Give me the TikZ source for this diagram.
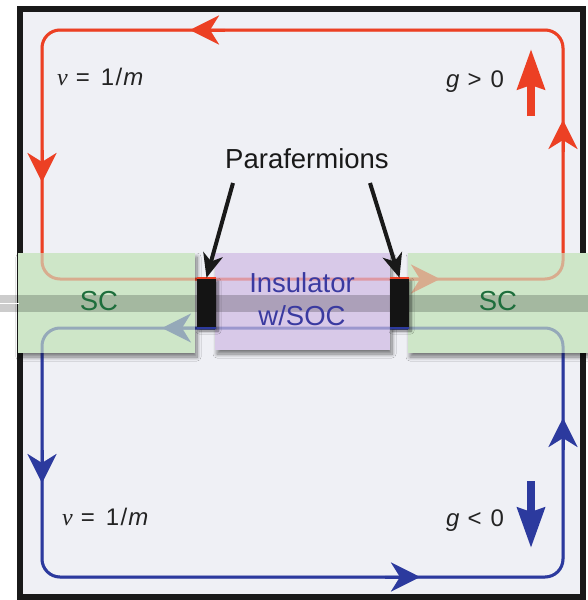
\documentclass[tikz,border=0pt]{standalone}
\usepackage{fontspec}
\setmainfont{Liberation Sans}
\newfontfamily\nufont{Liberation Serif}
\usetikzlibrary{arrows.meta,shadows.blur}
\definecolor{redc}{RGB}{236,64,36}
\definecolor{bluec}{RGB}{44,58,158}
\definecolor{bgc}{RGB}{239,240,245}
\definecolor{scfill}{RGB}{206,230,200}
\definecolor{insfill}{RGB}{216,201,232}
\definecolor{sctext}{RGB}{30,110,60}
\definecolor{instext}{RGB}{58,58,160}
\definecolor{txt}{RGB}{35,35,35}
\tikzset{
  loopline/.style={line width=3pt, rounded corners=18pt},
  looptip/.style={line width=3pt, -{Stealth[length=29pt,width=29pt,inset=9pt]}},
  boxshadow/.style={blur shadow={shadow xshift=2pt,shadow yshift=-4pt,shadow blur radius=4pt,shadow blur steps=8,shadow opacity=50}},
  scbox/.style={boxshadow, fill=scfill, draw=none, minimum height=100pt, inner sep=0pt},
  insbox/.style={boxshadow, fill=insfill, draw=none, minimum width=175pt, minimum height=97pt, inner sep=0pt},
  pfblock/.style={blur shadow={shadow xshift=2pt,shadow yshift=-3pt,shadow blur radius=3pt,shadow blur steps=6,shadow opacity=55}, fill=black!92, minimum width=19pt, minimum height=50pt, inner sep=0pt},
  bigtext/.style={font=\fontsize{27.5}{30}\selectfont, inner sep=0pt, anchor=base},
  eqtext/.style={font=\fontsize{24}{28}\selectfont, text=txt, inner sep=0pt, anchor=base west},
  pfarrow/.style={line width=4pt, black!90, -{Stealth[length=24pt,width=20pt,inset=7pt]}},
  spinarrow/.style={line width=8pt, -{Stealth[length=40pt,width=27pt,inset=4pt]}}
}
\newcommand\edgeloops{%
  \draw[redc, loopline] (42,30) rectangle (563,279);
  \draw[redc, looptip] (225,30) -- (190,30);
  \draw[redc, looptip] (42,150) -- (42,182);
  \draw[redc, looptip] (563,152) -- (563,120);
  \draw[redc, looptip] (405,279) -- (440,279);
  \draw[bluec, loopline] (42,328) rectangle (563,577);
  \draw[bluec, looptip] (195,328) -- (162,328);
  \draw[bluec, looptip] (42,450) -- (42,483);
  \draw[bluec, looptip] (385,577) -- (420,577);
  \draw[bluec, looptip] (563,450) -- (563,418);
}
\begin{document}
\begin{tikzpicture}[x=1pt,y=-1pt]
\useasboundingbox (0,0) rectangle (588,600);
\fill[white] (0,0) rectangle (588,600);
\filldraw[fill=bgc, draw=black!90, line width=6pt] (20,8.5) rectangle (582.5,597);
% edge states
\edgeloops
% boxes
\node[scbox, minimum width=177pt] (boxL) at (106.5,303) {};
\node[scbox, minimum width=180pt] (boxR) at (498,303) {};
\node[insbox] (boxI) at (302.5,301.5) {};
% wire band
\fill[black, opacity=0.2] (0,295) rectangle (588,312);
\draw[white, line width=1.5pt] (0,303.5) -- (19,303.5);
% faded edge states through the boxes
\begin{scope}[transparency group, opacity=0.35]
\edgeloops
\end{scope}
% parafermion blocks
\node[pfblock] (bL) at (206.5,303) {};
\node[pfblock] (bR) at (399.5,303) {};
\draw[redc, line width=2.5pt] (bL.north west) -- (bL.north east);
\draw[redc, line width=2.5pt] (bR.north west) -- (bR.north east);
\draw[bluec, line width=2.5pt] (bL.south west) -- (bL.south east);
\draw[bluec, line width=2.5pt] (bR.south west) -- (bR.south east);
% labels
\node[bigtext, text=sctext] (scL) at (99,310) {SC};
\node[bigtext, text=sctext] (scR) at (498,310) {SC};
\node[bigtext, text=instext] (ins1) at (302,292) {Insulator};
\node[bigtext, text=instext] (ins2) at (302,325) {w/SOC};
\node[bigtext, text=black!90] (pf) at (307,168) {Parafermions};
\coordinate (pfL) at (233,183);
\coordinate (pfR) at (370,183);
\draw[pfarrow] (pfL) -- (bL.north);
\draw[pfarrow] (pfR) -- (bR.north);
\node[eqtext] (nu1) at (57,85) {{\nufont\itshape ν}\hspace{8pt}=\hspace{11pt}1\hspace{1.5pt}/\hspace{1pt}\textit{m}};
\node[eqtext] (nu2) at (62,525) {{\nufont\itshape ν}\hspace{8pt}=\hspace{11pt}1\hspace{1.5pt}/\hspace{1pt}\textit{m}};
\node[eqtext] (gp) at (446,87) {\textit{g}\hspace{8pt}>\hspace{9pt}0};
\node[eqtext] (gn) at (446,526) {\textit{g}\hspace{8pt}<\hspace{9pt}0};
\coordinate (upS) at (531,116);
\coordinate (upE) at (531,49);
\coordinate (dnS) at (531,481);
\coordinate (dnE) at (531,548);
\draw[redc, spinarrow] (upS) -- (upE);
\draw[bluec, spinarrow] (dnS) -- (dnE);
\end{tikzpicture}
\end{document}
